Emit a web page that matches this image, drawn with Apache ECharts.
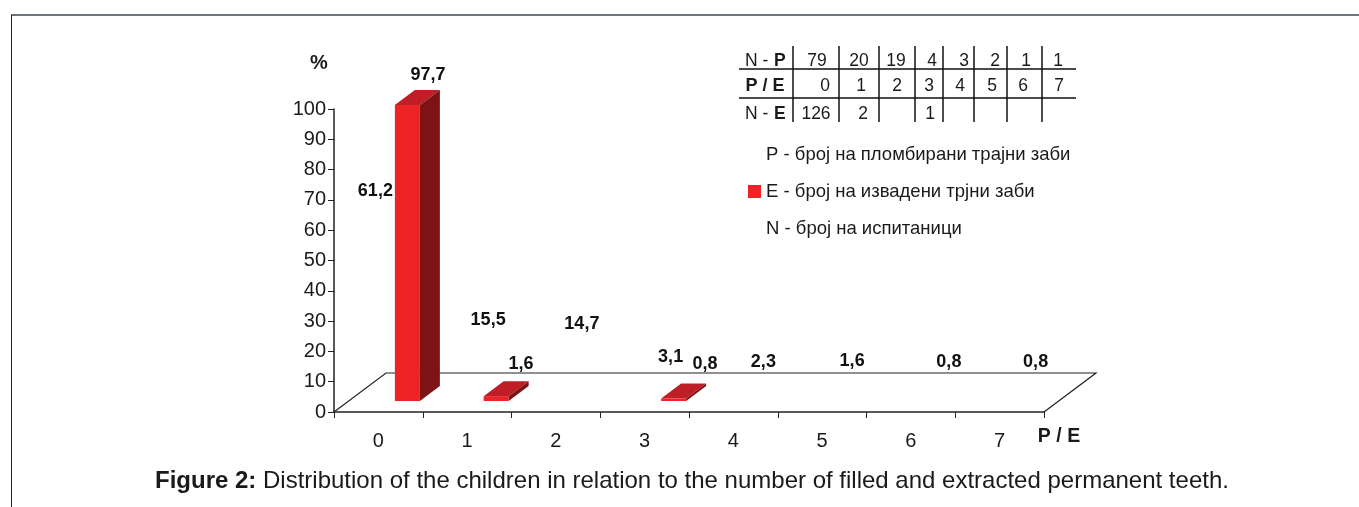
<!DOCTYPE html>
<html>
<head>
<meta charset="utf-8">
<script src="https://cdn.jsdelivr.net/npm/echarts@6/dist/echarts.min.js"></script>
<style>
html, body { margin: 0; padding: 0; background: #fff; }
#main { width: 1359px; height: 507px; }
</style>
</head>
<body>
<div id="main"></div>
<script>
var categories = ['0', '1', '2', '3', '4', '5', '6', '7'];
var pValues = [61.2, 15.5, 14.7, 3.1, 2.3, 1.6, 0.8, 0.8];
var eValues = [97.7, 1.6, null, 0.8, null, null, null, null];
var yTicks = [0, 10, 20, 30, 40, 50, 60, 70, 80, 90, 100];
var nP = ['79', '20', '19', '4', '3', '2', '1', '1'];
var nE = ['126', '2', '', '1', '', '', '', ''];
var legendP = 'P - број на пломбирани трајни заби';
var legendE = 'E - број на извадени трјни заби';
var legendN = 'N - број на испитаници';

var font = '"Liberation Sans", Arial, sans-serif';
var ink = '#1a1a1a';
var red = '#ee2326', redTop = '#bf1e26', redSide = '#7d1315';

// hand placed labels in the original, nudge from the default spot
var pNudge = [[-3, 11], [21, 2], [26, 4], [26, 1], [30, 4], [30, 1], [38, -1], [36, -1]];
var eNudge = { 0: [428, 75], 1: [521, 364], 3: [705, 364] };

function numText(v) {
	return v.toFixed(1).replace('.', ',');
}

function renderFloor(params, api) {
	var c = params.coordSys;
	var b = c.y + c.height, l = c.x, r = c.x + c.width;
	return {
		type: 'polyline',
		shape: { points: [[l, b], [l + 52, b - 39], [r + 52, b - 39], [r, b]] },
		style: { fill: 'none', stroke: '#222', lineWidth: 1.2 },
		silent: true
	};
}

function renderE(params, api) {
	var i = api.value(0), v = api.value(1);
	if (isNaN(v)) return;
	var top = api.coord([i, v]);
	var base = api.coord([i, 0]);
	var x0 = top[0] + 16.5, x1 = x0 + 25;
	var y0 = top[1] - 11, y1 = base[1] - 11;
	var dx = 20, dy = 15;
	var label = eNudge[i];
	return {
		type: 'group',
		children: [
			{ type: 'polygon', shape: { points: [[x0, y0], [x1, y0], [x1, y1], [x0, y1]] }, style: { fill: api.visual('color') } },
			{ type: 'polygon', shape: { points: [[x0, y0], [x0 + dx, y0 - dy], [x1 + dx, y0 - dy], [x1, y0]] }, style: { fill: redTop } },
			{ type: 'polygon', shape: { points: [[x1, y0], [x1 + dx, y0 - dy], [x1 + dx, y1 - dy], [x1, y1]] }, style: { fill: redSide } },
			{ type: 'text', style: { text: numText(v), x: label[0], y: label[1], align: 'center', verticalAlign: 'middle', fontFamily: font, fontWeight: 'bold', fontSize: 18, fill: '#111' } }
		]
	};
}

function renderP(params, api) {
	var i = api.value(0), v = api.value(1);
	var p = api.coord([i, v]);
	var n = pNudge[i];
	return {
		type: 'text',
		style: { text: numText(v), x: p[0] + n[0], y: p[1] - 47 + n[1], align: 'center', verticalAlign: 'middle', fontFamily: font, fontWeight: 'bold', fontSize: 18, fill: '#111' }
	};
}

function toRows(arr) {
	var res = [];
	for (var i = 0; i < arr.length; i++) {
		res.push([i, arr[i]]);
	}
	return res;
}

// small table top right
var colLines = [793, 839, 879, 915, 943, 974, 1007, 1042];
var rowLines = [69, 98];
var rowP = [[817, 61], [859, 61], [896, 61], [932, 61], [964, 61], [995, 61], [1026, 61], [1058, 61]];
var rowC = [[825, 86], [861, 86], [897, 86], [929, 86], [960, 86], [992, 86], [1023, 86], [1059, 86]];
var rowE = [[816, 114], [863, 114], [897, 114], [930, 114], [960, 114], [992, 114], [1023, 114], [1059, 114]];

function cell(txt, x, y, bold, size, align) {
	return {
		type: 'text',
		style: { text: txt, x: x, y: y, align: align || 'center', verticalAlign: 'middle', fontFamily: font, fontSize: size || 17.5, fontWeight: bold ? 'bold' : 'normal', fill: ink }
	};
}

var graphics = [
	{ type: 'line', shape: { x1: 11, y1: 15, x2: 1359, y2: 15 }, style: { stroke: '#6b7580', lineWidth: 2 } },
	{ type: 'line', shape: { x1: 11.5, y1: 15, x2: 11.5, y2: 507 }, style: { stroke: '#1a2030', lineWidth: 1 } },
	cell('%', 319, 63, true, 20),
	cell('P / E', 1059, 437, true, 19.5),
	cell('N - ', 745, 61, false, 17.5, 'left'),
	cell('P', 774, 61, true, 17.5, 'left'),
	cell('P / E', 765, 86, true, 18),
	cell('N - ', 745, 114, false, 17.5, 'left'),
	cell('E', 774, 114, true, 17.5, 'left')
];
rowLines.forEach(function (y) {
	graphics.push({ type: 'line', shape: { x1: 739, y1: y, x2: 1076, y2: y }, style: { stroke: '#111', lineWidth: 1.5 } });
});
colLines.forEach(function (x) {
	graphics.push({ type: 'line', shape: { x1: x, y1: 46, x2: x, y2: 122 }, style: { stroke: '#111', lineWidth: 1.5 } });
});
categories.forEach(function (c, i) {
	graphics.push(cell(nP[i], rowP[i][0], rowP[i][1]));
	graphics.push(cell(c, rowC[i][0], rowC[i][1]));
	if (nE[i]) graphics.push(cell(nE[i], rowE[i][0], rowE[i][1]));
});

var chart = echarts.init(document.getElementById('main'));
chart.setOption({
	animation: false,
	backgroundColor: '#fff',
	textStyle: { fontFamily: font },
	title: {
		text: '{b|Figure 2:} Distribution of the children in relation to the number of filled and extracted permanent teeth.',
		left: 150,
		top: 464,
		textStyle: {
			fontFamily: font,
			fontWeight: 'normal',
			fontSize: 24,
			color: ink,
			rich: {
				b: { fontFamily: font, fontWeight: 'bold', fontSize: 24, color: ink }
			}
		}
	},
	legend: {
		orient: 'vertical',
		left: 743,
		top: 140,
		itemWidth: 13,
		itemHeight: 13,
		itemGap: 18,
		icon: 'rect',
		data: [legendP, legendE, legendN],
		textStyle: { fontFamily: font, fontSize: 18.5, color: ink }
	},
	grid: { left: 334, right: 315, top: 109, bottom: 95 },
	xAxis: {
		type: 'category',
		data: categories,
		axisLine: { lineStyle: { color: '#222', width: 1.5 } },
		axisTick: { show: true, length: 6, alignWithLabel: false, lineStyle: { color: '#222' } },
		axisLabel: { margin: 19, fontFamily: font, fontSize: 20, color: ink }
	},
	yAxis: {
		type: 'value',
		min: 0,
		max: 100,
		interval: 10,
		splitLine: { show: false },
		axisLine: { show: true, lineStyle: { color: '#222', width: 1.5 } },
		axisTick: { show: true, length: 6, lineStyle: { color: '#222' } },
		axisLabel: { margin: 8, fontFamily: font, fontSize: 20, color: ink, padding: [3, 0, 0, 0], customValues: yTicks }
	},
	graphic: graphics,
	series: [
		{ type: 'custom', name: 'floor', silent: true, renderItem: renderFloor, data: [[0, 0]], z: 1 },
		{ name: legendP, type: 'custom', renderItem: renderP, data: toRows(pValues), itemStyle: { color: '#fff' }, z: 3 },
		{ name: legendE, type: 'custom', renderItem: renderE, data: toRows(eValues), itemStyle: { color: red }, z: 2 },
		{ name: legendN, type: 'custom', renderItem: function () {}, data: [], itemStyle: { color: '#fff' } }
	]
});
</script>
</body>
</html>
